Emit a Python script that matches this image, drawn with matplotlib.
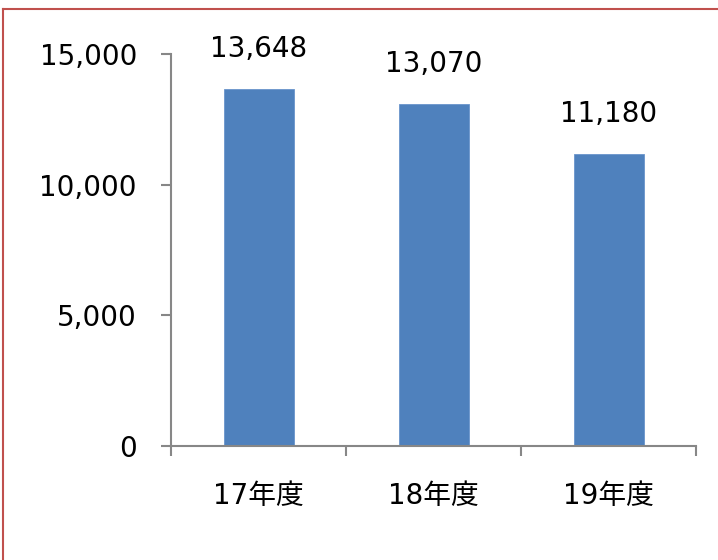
import matplotlib.pyplot as plt
from matplotlib.lines import Line2D

plt.rcParams['font.family'] = ['DejaVu Sans', 'Noto Sans CJK JP']

# data
categories = ['17年度', '18年度', '19年度']
values = [13648, 13070, 11180]
yticks = [0, 5000, 10000, 15000]

W, H = 718, 560
fig = plt.figure(figsize=(W / 100, H / 100), dpi=100)
ax = fig.add_axes([171 / W, 1 - 446 / H, (696 - 171) / W, (446 - 54) / H])

x = list(range(len(categories)))
ax.bar(x, values, width=0.4, color='#4F81BD', edgecolor='#6A95CC', linewidth=0.6, zorder=2)
ax.set_xlim(-0.5, len(categories) - 0.5)
ax.set_ylim(0, 15000)

# value labels
for xi, v in zip(x, values):
    ax.annotate('{:,}'.format(v), (xi, v), xytext=(0, 32), textcoords='offset pixels',
                ha='center', va='baseline', fontsize=20, color='black')

gray = '#878787'
ax.set_yticks(yticks)
ax.set_yticklabels(['{:,}'.format(t) for t in yticks])
ax.tick_params(axis='y', direction='out', length=7.5, width=1.5, color=gray,
               labelsize=20, pad=17)

# category labels at centres, tick marks at boundaries
ax.set_xticks(x)
ax.set_xticklabels(categories)
ax.set_xticks([i - 0.5 for i in range(len(categories) + 1)], minor=True)
ax.tick_params(axis='x', which='major', length=0, labelsize=20, pad=26)
ax.tick_params(axis='x', which='minor', direction='out', length=7.5, width=1.5, color=gray)

for s in ['top', 'right']:
    ax.spines[s].set_visible(False)
for s in ['left', 'bottom']:
    ax.spines[s].set_color(gray)
    ax.spines[s].set_linewidth(1.5)

# outer border: only the top and left edges are inside the picture
border = '#C0504D'
fig.add_artist(Line2D([2.5 / W, 1], [1 - 9 / H, 1 - 9 / H], transform=fig.transFigure,
                      color=border, linewidth=1.5))
fig.add_artist(Line2D([2.5 / W, 2.5 / W], [0, 1 - 9 / H], transform=fig.transFigure,
                      color=border, linewidth=1.5))

fig.savefig('out.png', dpi=100)
